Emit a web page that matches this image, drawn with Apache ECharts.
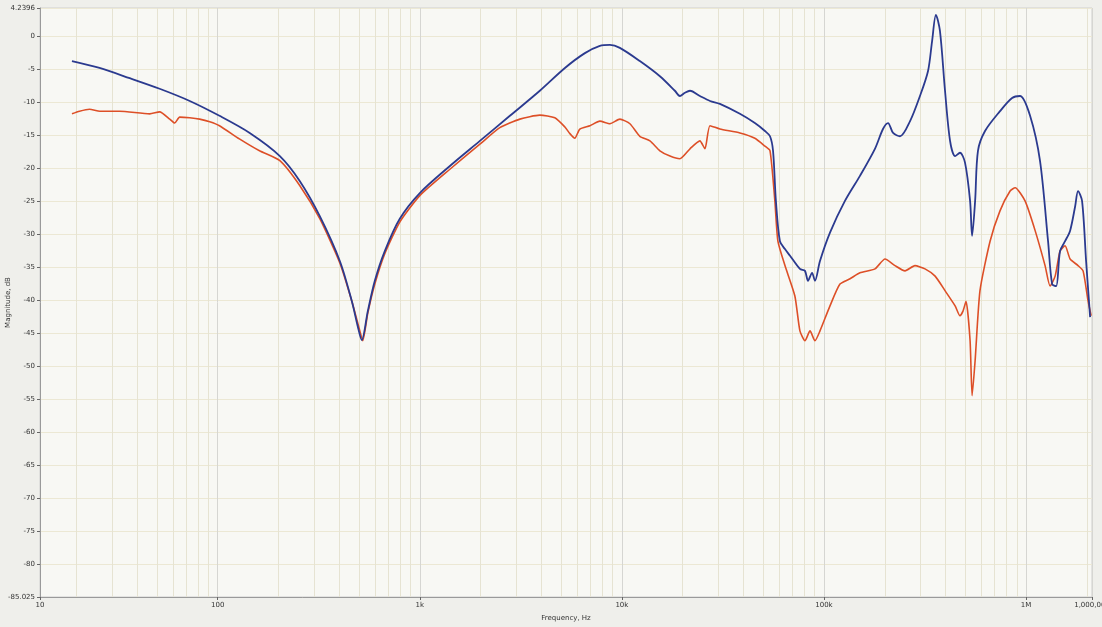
<!DOCTYPE html>
<html><head><meta charset="utf-8">
<script src="https://cdn.jsdelivr.net/npm/echarts@6/dist/echarts.min.js"></script>
<style>html,body{margin:0;padding:0;background:#efefeb;}#c{width:1102px;height:627px;}</style>
</head><body><div id="c"></div>
<script>
// Frequency (Hz) and magnitude (dB)
const blueFreq = [19,26,36.7,51.6,72.7,102,144,203,255,320,402,461,493,516,553,599,671,796,1000,1409,1983,2791,3926,5224,6561,7780,8730,9772,12270,15420,18290,19360,20510,21730,24320,27290,30550,38370,45500,51050,54080,55970,57830,60540,64120,67920,76030,80540,83370,87300,90230,95550,107100,127000,150700,178700,195900,207500,219800,237800,266700,298500,327300,342700,358100,374800,397200,420700,445600,471000,498800,528500,540800,559700,578100,626600,743000,853000,933300,1047000,1172000,1285000,1346000,1409000,1473000,1560000,1652000,1750000,1808000,1893000,1982000,2075000];
const blueDb = [-3.8,-4.85,-6.4,-8.0,-9.85,-12.1,-14.7,-18.2,-22.0,-27.3,-34.1,-40.2,-44.0,-46.1,-41.7,-37.1,-32.6,-27.7,-23.8,-19.7,-15.9,-12.1,-8.3,-4.85,-2.6,-1.5,-1.35,-1.8,-3.8,-6.1,-8.3,-9.1,-8.6,-8.3,-9.1,-9.85,-10.3,-11.8,-13.2,-14.4,-15.2,-17.4,-25.0,-31.1,-32.3,-33.3,-35.3,-35.6,-37.1,-35.9,-37.1,-34.1,-29.8,-25.0,-21.2,-17.1,-14.1,-13.2,-14.7,-15.2,-12.9,-9.1,-5.3,-0.8,3.2,0.8,-8.3,-15.9,-18.2,-17.7,-19.2,-25.0,-30.3,-25.0,-17.4,-14.4,-11.4,-9.4,-9.1,-12.1,-18.9,-31.1,-37.6,-37.9,-32.6,-31.1,-29.5,-25.8,-23.5,-25.0,-34.1,-42.6];
const orangeFreq = [19,20.7,23.2,26.1,32.7,46.1,51.6,57.9,61.2,64.8,72.7,81.4,91.3,102,128,161,203,255,320,402,461,505,522,553,599,671,796,1000,1409,1983,2489,3127,3926,4659,5224,5530,5848,6194,6950,7780,8730,9772,10960,12270,13770,15420,17300,19360,21730,24320,25760,27290,30550,38370,45500,51050,54080,57150,59160,64120,71780,76030,80540,85310,90230,95550,107100,120000,134600,150700,178700,200500,224500,251800,281900,316200,354800,397200,445600,471000,487500,504700,528500,540800,559700,591600,663700,743000,833700,883100,988700,1109000,1242000,1315000,1393000,1473000,1560000,1652000,1808000,1915000,2028000,2099000];
const orangeDb = [-11.8,-11.4,-11.1,-11.4,-11.4,-11.8,-11.5,-12.6,-13.2,-12.3,-12.4,-12.6,-13.0,-13.6,-15.6,-17.4,-18.9,-22.7,-27.7,-34.4,-40.2,-44.7,-46.2,-42.0,-37.6,-33.0,-28.2,-24.2,-20.2,-16.4,-13.9,-12.6,-12.0,-12.4,-13.8,-14.8,-15.5,-14.1,-13.6,-12.9,-13.3,-12.6,-13.3,-15.2,-15.9,-17.4,-18.2,-18.6,-17.1,-15.9,-17.1,-13.6,-14.1,-14.7,-15.5,-16.7,-17.4,-25.0,-31.1,-34.8,-39.4,-44.7,-46.2,-44.7,-46.2,-44.7,-40.9,-37.6,-36.8,-35.9,-35.3,-33.8,-34.8,-35.6,-34.8,-35.3,-36.4,-38.6,-40.9,-42.4,-41.7,-40.2,-46.2,-54.5,-49.2,-38.6,-31.1,-26.5,-23.5,-23.0,-25.0,-29.5,-34.8,-37.9,-36.4,-32.6,-31.8,-33.8,-34.8,-35.6,-40.2,-42.4];

const yMin = -85.025, yMax = 4.2396;
const yTicks = [4.2396,0,-5,-10,-15,-20,-25,-30,-35,-40,-45,-50,-55,-60,-65,-70,-75,-80,-85.025];
const xMin = 13.2, xMax = 2120000;
const xTicks = [13.2,100,1000,10000,100000,1000000,2120000];
const xTickLabels = ['10','100','1k','10k','100k','1M','1,000,000'];

const zip = (a, b) => a.map((v, i) => [v, b[i]]);
const minorX = [];
for (let d = 10; d <= 1e6; d *= 10) for (let k = 2; k <= 9; k++) { const v = k * d; if (v > xMin && v < xMax) minorX.push({xAxis: v}); }

const chart = echarts.init(document.getElementById('c'), null, {renderer: 'canvas'});
chart.setOption({
  backgroundColor: '#efefeb',
  animation: false,
  grid: {left: 40, right: 10, top: 8, bottom: 30, containLabel: false, outerBoundsMode: 'none',
         show: true, backgroundColor: '#f8f8f4', borderColor: '#cfcfcf', borderWidth: 1},
  xAxis: {
    type: 'log', logBase: 10, min: xMin, max: xMax,
    name: 'Frequency, Hz', nameLocation: 'middle', nameGap: 18, nameMoveOverlap: false,
    nameTextStyle: {fontSize: 7, color: '#333', fontFamily: 'DejaVu Sans'},
    axisLine: {show: true, onZero: false, lineStyle: {color: '#9a9a9a'}},
    axisTick: {show: true, length: 3, customValues: xTicks, lineStyle: {color: '#666'}},
    axisLabel: {customValues: xTicks, fontSize: 7, color: '#333', margin: 5, fontFamily: 'DejaVu Sans',
      formatter: v => { let bi = 0; xTicks.forEach((t, i) => { if (Math.abs(Math.log10(t) - Math.log10(v)) < Math.abs(Math.log10(xTicks[bi]) - Math.log10(v))) bi = i; }); return xTickLabels[bi]; }},
    splitLine: {show: true, lineStyle: {color: '#d6d6d2', width: 1}},
    minorTick: {show: false}, minorSplitLine: {show: false}
  },
  yAxis: {
    type: 'value', min: yMin, max: yMax,
    name: 'Magnitude, dB', nameLocation: 'middle', nameGap: 28, nameRotate: 90, nameMoveOverlap: false,
    nameTextStyle: {fontSize: 7, color: '#333', fontFamily: 'DejaVu Sans'},
    axisLine: {show: true, onZero: false, lineStyle: {color: '#9a9a9a'}},
    axisTick: {show: true, length: 3, customValues: yTicks, lineStyle: {color: '#666'}},
    axisLabel: {customValues: yTicks, fontSize: 7, color: '#333', margin: 5, fontFamily: 'DejaVu Sans',
      formatter: v => String(v)},
    splitLine: {show: true, lineStyle: {color: '#ece8d4', width: 1}}
  },
  series: [
    {type: 'line', name: 'grid', data: [], z: 1, silent: true,
     markLine: {silent: true, z: 1, symbol: 'none', label: {show: false}, animation: false,
       lineStyle: {color: '#e6e3d2', type: 'solid', width: 1}, data: minorX}},
    {type: 'line', name: 'B', data: zip(orangeFreq, orangeDb), showSymbol: false, smooth: 0.2,
     lineStyle: {color: '#dd4f27', width: 1.6}, itemStyle: {color: '#dd4f27'}, z: 3},
    {type: 'line', name: 'A', data: zip(blueFreq, blueDb), showSymbol: false, smooth: 0.3,
     lineStyle: {color: '#2b3a8f', width: 1.8}, itemStyle: {color: '#2b3a8f'}, z: 4}
  ]
});
</script></body></html>
